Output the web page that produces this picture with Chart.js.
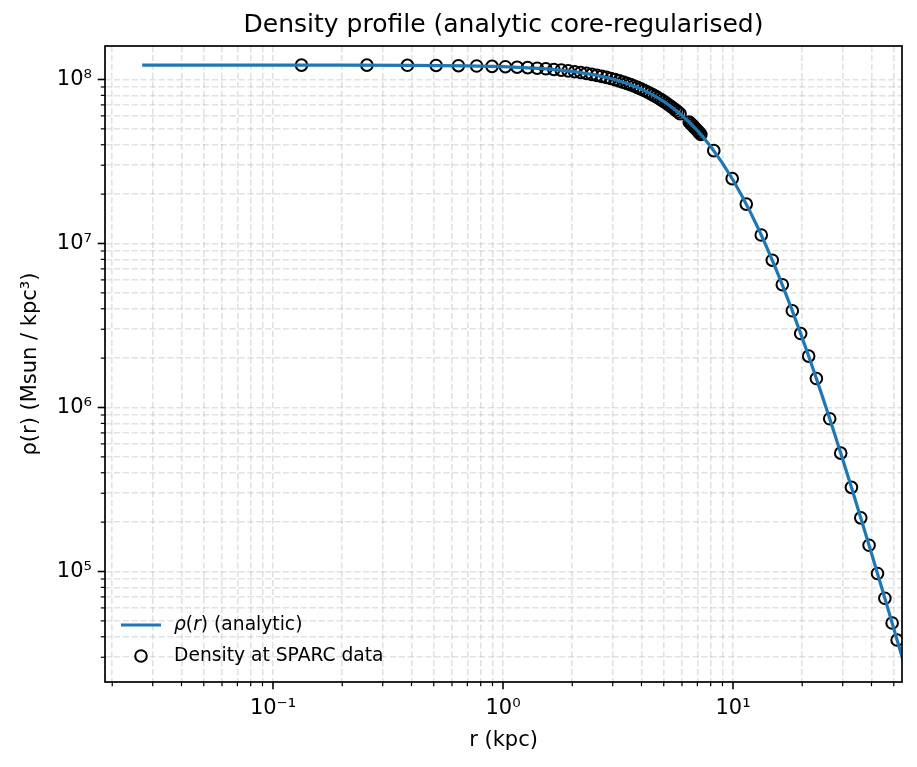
<!DOCTYPE html>
<html>
<head>
<meta charset="utf-8">
<script src="https://cdn.jsdelivr.net/npm/chart.js@4.4.1/dist/chart.umd.min.js"></script>
<style>
html,body{margin:0;padding:0;background:#fff;}
#wrap{width:917px;height:767px;}
</style>
</head>
<body>
<div id="wrap"><canvas id="c" width="917" height="767"></canvas></div>
<script>
// ---------- data ----------
const curveR = [0.027, 0.05, 0.1, 0.2, 0.4, 0.7, 1.0, 1.5, 2.0, 2.5, 3.0, 3.5, 4.0, 4.5, 5.0, 5.5, 6.0, 6.5, 7.0, 7.5, 8.0, 9.0, 10, 11, 12, 13, 14, 15, 16, 18, 20, 22, 24, 26, 28, 30, 33, 36, 40, 44, 48, 52, 56];
const curveRho = [1.2246e8, 1.2245e8, 1.2243e8, 1.2235e8, 1.2202e8, 1.2111e8, 1.1973e8, 1.1643e8, 1.1202e8, 1.0669e8, 1.0065e8, 9.410e7, 8.728e7, 8.034e7, 7.347e7, 6.680e7, 6.042e7, 5.442e7, 4.884e7, 4.369e7, 3.899e7, 3.090e7, 2.438e7, 1.921e7, 1.5162e7, 1.1994e7, 9.522e6, 7.594e6, 6.090e6, 3.978e6, 2.657e6, 1.815e6, 1.2671e6, 9.017e5, 6.535e5, 4.817e5, 3.139e5, 2.106e5, 1.2916e5, 8.250e4, 5.457e4, 3.719e4, 2.602e4];

const sparcR = [0.133, 0.256, 0.384, 0.512, 0.640, 0.768, 0.896, 1.024, 1.152, 1.280, 1.408, 1.536, 1.664, 1.792, 1.920, 2.048, 2.176, 2.304, 2.432, 2.560, 2.688, 2.816, 2.944, 3.072, 3.200, 3.328, 3.456, 3.584, 3.712, 3.840, 3.968, 4.096, 4.224, 4.352, 4.480, 4.608, 4.736, 4.864, 4.992, 5.120, 5.248, 5.376, 5.504, 5.632, 5.760, 5.888, 6.45, 6.55, 6.65, 6.75, 6.85, 6.95, 7.05, 7.15, 7.25, 8.25, 9.92, 11.42, 13.27, 14.82, 16.38, 18.11, 19.69, 21.33, 23.04, 26.33, 29.40, 32.73, 35.94, 39.05, 42.49, 45.73, 49.19, 51.71];
const sparcRho = [1.2241e8, 1.2228e8, 1.2205e8, 1.2173e8, 1.2133e8, 1.2083e8, 1.2026e8, 1.1960e8, 1.1885e8, 1.1803e8, 1.1712e8, 1.1615e8, 1.1510e8, 1.1398e8, 1.1279e8, 1.1155e8, 1.1024e8, 1.0888e8, 1.0746e8, 1.0600e8, 1.0449e8, 1.0294e8, 1.0135e8, 9.973e7, 9.808e7, 9.640e7, 9.469e7, 9.297e7, 9.123e7, 8.948e7, 8.771e7, 8.594e7, 8.417e7, 8.239e7, 8.061e7, 7.884e7, 7.708e7, 7.532e7, 7.358e7, 7.184e7, 7.013e7, 6.843e7, 6.674e7, 6.508e7, 6.344e7, 6.182e7, 5.500e7, 5.384e7, 5.270e7, 5.158e7, 5.047e7, 4.938e7, 4.830e7, 4.725e7, 4.621e7, 3.681e7, 2.485e7, 1.739e7, 1.1265e7, 7.907e6, 5.605e6, 3.888e6, 2.824e6, 2.057e6, 1.5017e6, 8.539e5, 5.270e5, 3.257e5, 2.124e5, 1.4455e5, 9.725e4, 6.871e4, 4.853e4, 3.820e4];

const xMajorTicks = [0.1, 1, 10];
const xTickLabels = ['10\u207B\u00B9', '10\u2070', '10\u00B9'];
const yMajorTicks = [1e5, 1e6, 1e7, 1e8];
const yTickLabels = ['10\u2075', '10\u2076', '10\u2077', '10\u2078'];

const xRange = [0.0186, 54.3];
const yRange = [2.12e4, 1.60e8];

const titleText = 'Density profile (analytic core-regularised)';
const xTitle = 'r (kpc)';
const yTitle = '\u03C1(r) (Msun / kpc\u00B3)';
const seriesLabels = ['\u03C1(r) (analytic)', 'Density at SPARC data'];
// rich legend pieces: [text, italic]
const legendParts = [
  [['\u03C1', true], ['(', false], ['r', true], [') (analytic)', false]],
  [['Density at SPARC data', false]]
];

// ---------- helpers ----------
const FONT = '"DejaVu Sans", "Liberation Sans", sans-serif';
const BLUE = '#1f77b4';

function logTickList(min, max) {
  const out = [];
  const e0 = Math.floor(Math.log10(min)), e1 = Math.ceil(Math.log10(max));
  for (let e = e0; e <= e1; e++) {
    for (let k = 1; k <= 9; k++) {
      const v = parseFloat((k * Math.pow(10, e)).toPrecision(6));
      if (v >= min && v <= max) out.push({value: v, major: k === 1});
    }
  }
  return out;
}
function labelFor(majors, labels) {
  return function (value, index, ticks) {
    const t = ticks[index];
    if (!t || !t.major) return '';
    for (let i = 0; i < majors.length; i++) {
      if (Math.abs(Math.log10(majors[i]) - Math.log10(value)) < 1e-6) return labels[i];
    }
    return '';
  };
}

const curvePts = curveR.map((r, i) => ({x: r, y: curveRho[i]}));
const sparcPts = sparcR.map((r, i) => ({x: r, y: sparcRho[i]}));

const gridOpts = {
  color: 'rgba(176,176,176,0.36)',
  lineWidth: 1.6,
  drawTicks: false
};

// ---------- plugin: frame, tick marks, legend ----------
const decorPlugin = {
  id: 'decor',
  afterDatasetsDraw(chart) {
    const ctx = chart.ctx;
    const a = chart.chartArea;
    const xs = chart.scales.x, ys = chart.scales.y;
    ctx.save();
    // legend
    const rows = [625, 656];
    ctx.textBaseline = 'middle';
    ctx.textAlign = 'left';
    ctx.fillStyle = '#000';
    ctx.strokeStyle = BLUE;
    ctx.lineWidth = 3.2;
    ctx.lineCap = 'butt';
    ctx.beginPath();
    ctx.moveTo(121, rows[0]);
    ctx.lineTo(161, rows[0]);
    ctx.stroke();
    ctx.strokeStyle = '#000';
    ctx.lineWidth = 2;
    ctx.beginPath();
    ctx.arc(141, rows[1], 5.8, 0, Math.PI * 2);
    ctx.stroke();
    legendParts.forEach((parts, ri) => {
      let x = 174;
      parts.forEach(([txt, it]) => {
        ctx.font = (it ? 'italic ' : '') + '18.7px ' + FONT;
        ctx.fillText(txt, x, rows[ri]);
        x += ctx.measureText(txt).width;
      });
    });

    // tick marks
    ctx.strokeStyle = '#000';
    xs.ticks.forEach(t => {
      const px = xs.getPixelForValue(t.value);
      if (px < a.left - 0.5 || px > a.right + 0.5) return;
      ctx.lineWidth = t.major ? 1.6 : 1.2;
      const len = t.major ? 7.3 : 4.2;
      ctx.beginPath();
      ctx.moveTo(px, a.bottom);
      ctx.lineTo(px, a.bottom + len);
      ctx.stroke();
    });
    ys.ticks.forEach(t => {
      const py = ys.getPixelForValue(t.value);
      if (py < a.top - 0.5 || py > a.bottom + 0.5) return;
      ctx.lineWidth = t.major ? 1.6 : 1.2;
      const len = t.major ? 7.3 : 4.2;
      ctx.beginPath();
      ctx.moveTo(a.left, py);
      ctx.lineTo(a.left - len, py);
      ctx.stroke();
    });
    // frame
    ctx.lineWidth = 1.7;
    ctx.strokeStyle = '#000';
    ctx.strokeRect(a.left, a.top, a.right - a.left, a.bottom - a.top);
    ctx.restore();
  }
};

// ---------- chart ----------
new Chart(document.getElementById('c'), {
  type: 'scatter',
  data: {
    datasets: [
      {
        label: seriesLabels[0],
        data: curvePts,
        showLine: true,
        borderColor: BLUE,
        backgroundColor: BLUE,
        borderWidth: 3.2,
        pointRadius: 0,
        pointHoverRadius: 0,
        tension: 0,
        fill: false,
        clip: 0
      },
      {
        label: seriesLabels[1],
        data: sparcPts,
        showLine: false,
        pointStyle: 'circle',
        pointRadius: 5.8,
        pointHoverRadius: 5.8,
        borderWidth: 2,
        borderColor: '#000',
        backgroundColor: 'rgba(0,0,0,0)',
        clip: 0
      }
    ]
  },
  options: {
    responsive: false,
    devicePixelRatio: 1,
    animation: false,
    events: [],
    layout: {padding: {left: 0, right: 15, top: 0, bottom: 0}},
    plugins: {
      legend: {display: false},
      tooltip: {enabled: false},
      title: {
        display: true,
        text: titleText,
        fullSize: false,
        color: '#000',
        font: {family: FONT, size: 25, weight: 'normal'},
        padding: {top: 10, bottom: 6}
      }
    },
    scales: {
      x: {
        type: 'logarithmic',
        position: 'bottom',
        min: xRange[0],
        max: xRange[1],
        afterBuildTicks(scale) { scale.ticks = logTickList(xRange[0], xRange[1]); },
        afterFit(scale) { scale.height = 85; },
        grid: gridOpts,
        border: {display: false, dash: [6.2, 2.7]},
        ticks: {
          autoSkip: false,
          maxRotation: 0,
          minRotation: 0,
          padding: 13.5,
          color: '#000',
          font: {family: FONT, size: 21},
          callback: labelFor(xMajorTicks, xTickLabels)
        },
        title: {
          display: true,
          text: xTitle,
          color: '#000',
          font: {family: FONT, size: 21},
          padding: {top: 0, bottom: 14}
        }
      },
      y: {
        type: 'logarithmic',
        position: 'left',
        min: yRange[0],
        max: yRange[1],
        afterBuildTicks(scale) { scale.ticks = logTickList(yRange[0], yRange[1]); },
        afterFit(scale) { scale.width = 105; },
        grid: gridOpts,
        border: {display: false, dash: [6.2, 2.7]},
        ticks: {
          autoSkip: false,
          padding: 13,
          color: '#000',
          font: {family: FONT, size: 21},
          callback: labelFor(yMajorTicks, yTickLabels)
        },
        title: {
          display: true,
          text: yTitle,
          color: '#000',
          font: {family: FONT, size: 21},
          padding: {top: 17.5, bottom: 0}
        }
      }
    }
  },
  plugins: [decorPlugin]
});
</script>
</body>
</html>
